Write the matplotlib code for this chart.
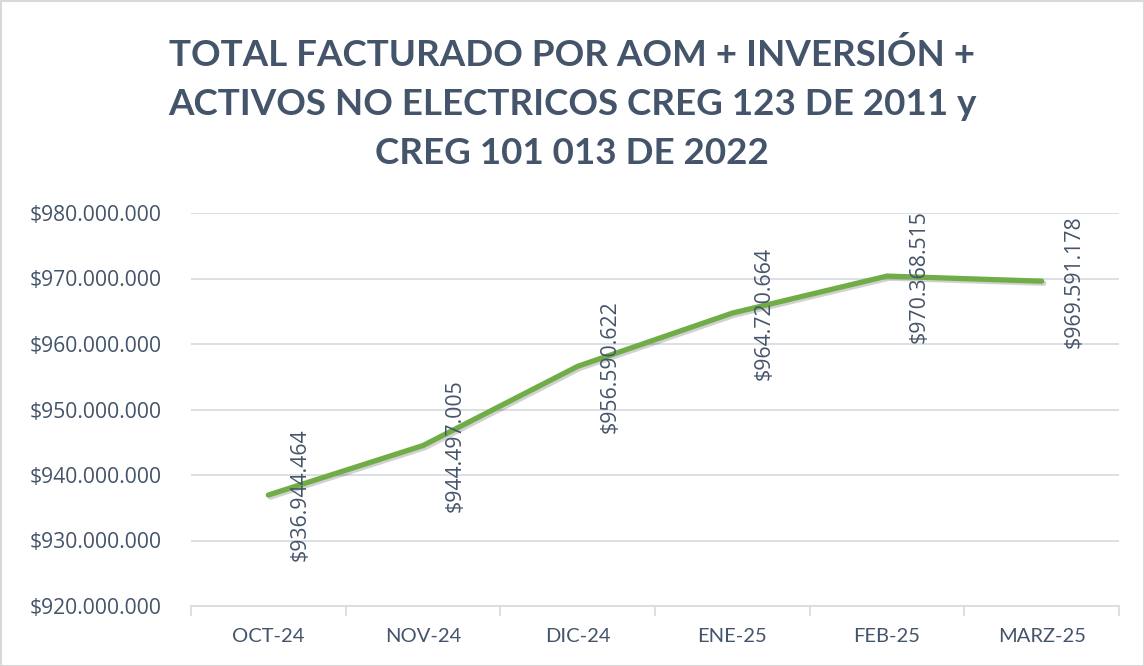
import matplotlib
matplotlib.use("Agg")
import matplotlib.pyplot as plt
import matplotlib.patheffects as pe
from matplotlib.ticker import FuncFormatter, FixedLocator
import numpy as np

categories = ["OCT-24", "NOV-24", "DIC-24", "ENE-25", "FEB-25", "MARZ-25"]
values = [936944464, 944497005, 956590622, 964720664, 970368515, 969591178]
title = "TOTAL FACTURADO POR AOM + INVERSIÓN +\nACTIVOS NO ELECTRICOS CREG 123 DE 2011 y\nCREG 101 013 DE 2022"

def money(v):
    return "$" + f"{int(round(v)):,}".replace(",", ".")

W, H = 1144, 666
fig = plt.figure(figsize=(W/100, H/100), dpi=100)
fig.patch.set_facecolor("white")
ax = fig.add_axes([191/W, 1-606/H, (1119-191)/W, (606-213)/H])

txt = "#44546A"
x = np.arange(len(categories))
ax.plot(x, values, color="#70AD47", lw=3.8, solid_capstyle="round", zorder=3,
        path_effects=[pe.SimpleLineShadow(offset=(1.5, -1.5), shadow_color="#000000", alpha=0.18), pe.Normal()])

ax.set_xlim(-0.5, len(categories)-0.5)
ax.set_ylim(920000000, 980000000)
ax.yaxis.set_major_locator(FixedLocator(np.arange(920000000, 980000001, 10000000)))
ax.yaxis.set_major_formatter(FuncFormatter(lambda v, p: money(v)))
ax.grid(axis="y", color="#D9DDE3", lw=1.3)
ax.set_axisbelow(True)
for s in ["top", "right", "left"]:
    ax.spines[s].set_visible(False)
ax.spines["bottom"].set_color("#D9DDE3")
ax.spines["bottom"].set_linewidth(1.3)

ax.set_xticks(x)
ax.set_xticklabels(categories)
ax.set_xticks(np.arange(-0.5, len(categories)), minor=True)
ax.tick_params(axis="x", which="major", length=0, pad=16, labelsize=14.5, labelcolor=txt)
ax.tick_params(axis="x", which="minor", length=7, color="#D9DDE3", width=1.3)
ax.tick_params(axis="y", length=0, pad=21, labelsize=15.2, labelcolor=txt)
for lab in ax.get_xticklabels():
    lab.set_fontfamily("Lato")
for lab in ax.get_yticklabels():
    lab.set_fontfamily("Open Sans")

for xi, v in zip(x, values):
    ax.annotate(money(v), (xi, v), xytext=(32, 0), textcoords="offset pixels",
                rotation=90, ha="center", va="center", fontsize=15.3, color=txt,
                fontfamily="Open Sans", zorder=4)

fig.text(0.5, 1-104/H, title, ha="center", va="center", fontsize=26.5, fontweight="bold",
         color=txt, fontfamily="Lato", linespacing=1.6)

border = plt.Rectangle((0.5/W, 0.5/H), 1-1/W, 1-1/H, transform=fig.transFigure,
                       fill=False, edgecolor="#D9D9D9", lw=1.5)
fig.patches.append(border)

fig.savefig("out.png", dpi=100, facecolor="white")
